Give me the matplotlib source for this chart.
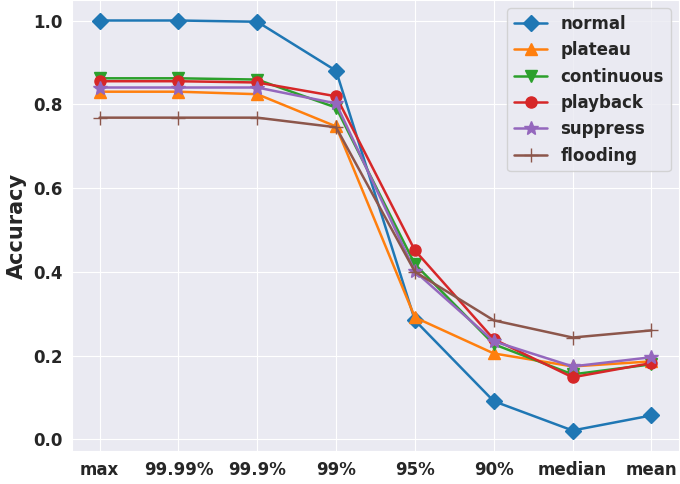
import matplotlib
matplotlib.use("Agg")
import matplotlib.pyplot as plt
import seaborn as sns

sns.set_style("darkgrid")
plt.rcParams["font.family"] = ["DejaVu Sans"]
plt.rcParams["font.weight"] = "bold"

categories = ["max", "99.99%", "99.9%", "99%", "95%", "90%", "median", "mean"]

normal = [1.0, 1.0, 0.997, 0.880, 0.284, 0.091, 0.021, 0.057]
plateau = [0.830, 0.830, 0.824, 0.747, 0.291, 0.205, 0.174, 0.186]
continuous = [0.862, 0.862, 0.859, 0.792, 0.418, 0.227, 0.155, 0.179]
playback = [0.855, 0.855, 0.852, 0.819, 0.451, 0.239, 0.148, 0.182]
suppress = [0.840, 0.840, 0.840, 0.802, 0.401, 0.234, 0.174, 0.196]
flooding = [0.768, 0.768, 0.768, 0.745, 0.400, 0.284, 0.243, 0.260]

series = [
    ("normal", normal, "D", 8),
    ("plateau", plateau, "^", 8),
    ("continuous", continuous, "v", 8),
    ("playback", playback, "o", 8),
    ("suppress", suppress, "*", 10),
    ("flooding", flooding, "+", 10),
]

fig = plt.figure(figsize=(6.8, 4.84), dpi=100)
ax = fig.add_axes([72 / 680, 33 / 484, 607 / 680, 451 / 484])

x = list(range(len(categories)))
for name, vals, mk, ms in series:
    ax.plot(x, vals, marker=mk, markersize=ms, linewidth=1.8, label=name)

ax.set_xticks(x)
ax.set_xticklabels(categories, fontsize=12, fontweight="bold")
ax.set_yticks([0.0, 0.2, 0.4, 0.6, 0.8, 1.0])
ax.set_yticklabels(["0.0", "0.2", "0.4", "0.6", "0.8", "1.0"], fontsize=12, fontweight="bold")
ax.set_ylabel("Accuracy", fontsize=15, fontweight="bold")
ax.legend(loc="upper right", prop={"weight": "bold", "size": 12})

fig.savefig("out.png", dpi=100)
